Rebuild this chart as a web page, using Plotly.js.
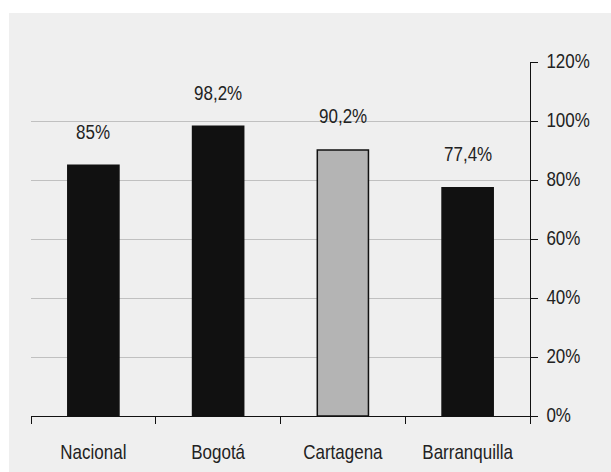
<!DOCTYPE html>
<html>
<head>
<meta charset="utf-8">
<script src="https://cdn.plot.ly/plotly-3.0.1.min.js"></script>
<style>
html,body{margin:0;padding:0;background:#ffffff;width:611px;height:472px;overflow:hidden;}
#chart{position:absolute;left:9px;top:13px;width:602px;height:459px;}
</style>
</head>
<body>
<div id="chart"></div>
<script>
const categories = ['Nacional', 'Bogotá', 'Cartagena', 'Barranquilla'];
const values = [85, 98.2, 90.2, 77.4];
const barColors = ['#111111', '#111111', '#b4b4b4', '#111111'];
const tickVals = [0, 20, 40, 60, 80, 100, 120];
const tickText = ['0%', '20%', '40%', '60%', '80%', '100%', '120%'];

const fontFam = '"Liberation Sans", Arial, sans-serif';
const labels = values.map(v => String(v).replace('.', ',') + '%');

const trace = {
  type: 'bar',
  x: categories,
  y: values,
  width: 0.41,
  marker: {color: barColors, line: {color: '#111111', width: 1.5}},
  hoverinfo: 'none'
};

const annotations = categories.map((c, i) => ({
  x: c, y: values[i], xref: 'x', yref: 'y',
  text: labels[i], showarrow: false,
  yshift: 32, yanchor: 'middle',
  font: {family: fontFam, size: 17, color: '#222222'}
}));

const layout = {
  width: 602, height: 459,
  margin: {l: 22, r: 81, t: 49, b: 56},
  paper_bgcolor: '#efefef',
  plot_bgcolor: '#efefef',
  showlegend: false,
  font: {family: fontFam, size: 17, color: '#222222'},
  xaxis: {
    type: 'category',
    showline: true, linecolor: '#111111', linewidth: 1,
    ticks: 'outside', tickson: 'boundaries', ticklen: 7, tickcolor: '#111111',
    showgrid: false, zeroline: false,
    ticklabelstandoff: 22,
    tickfont: {family: fontFam, size: 17, color: '#222222'}
  },
  yaxis: {
    side: 'right',
    range: [0, 120],
    tickvals: tickVals, ticktext: tickText,
    showline: true, linecolor: '#111111', linewidth: 1,
    ticks: 'outside', ticklen: 7, tickcolor: '#111111',
    showgrid: true, gridcolor: '#c0c0c0', gridwidth: 1,
    zeroline: false,
    ticklabelstandoff: 5,
    tickfont: {family: fontFam, size: 17, color: '#222222'}
  },
  annotations: annotations
};

// Stretch text vertically to imitate the narrow typeface of the original
function stretchText() {
  const sy = 1.18;
  document.querySelectorAll('#chart svg text').forEach(t => {
    const x = parseFloat(t.getAttribute('x')) || 0;
    const y = parseFloat(t.getAttribute('y')) || 0;
    const base = t.getAttribute('transform') || '';
    t.setAttribute('transform', base + ' translate(' + x + ',' + y + ') scale(1,' + sy + ') translate(' + (-x) + ',' + (-y) + ')');
  });
}

Plotly.newPlot('chart', [trace], layout, {displayModeBar: false, staticPlot: true}).then(stretchText);
</script>
</body>
</html>
